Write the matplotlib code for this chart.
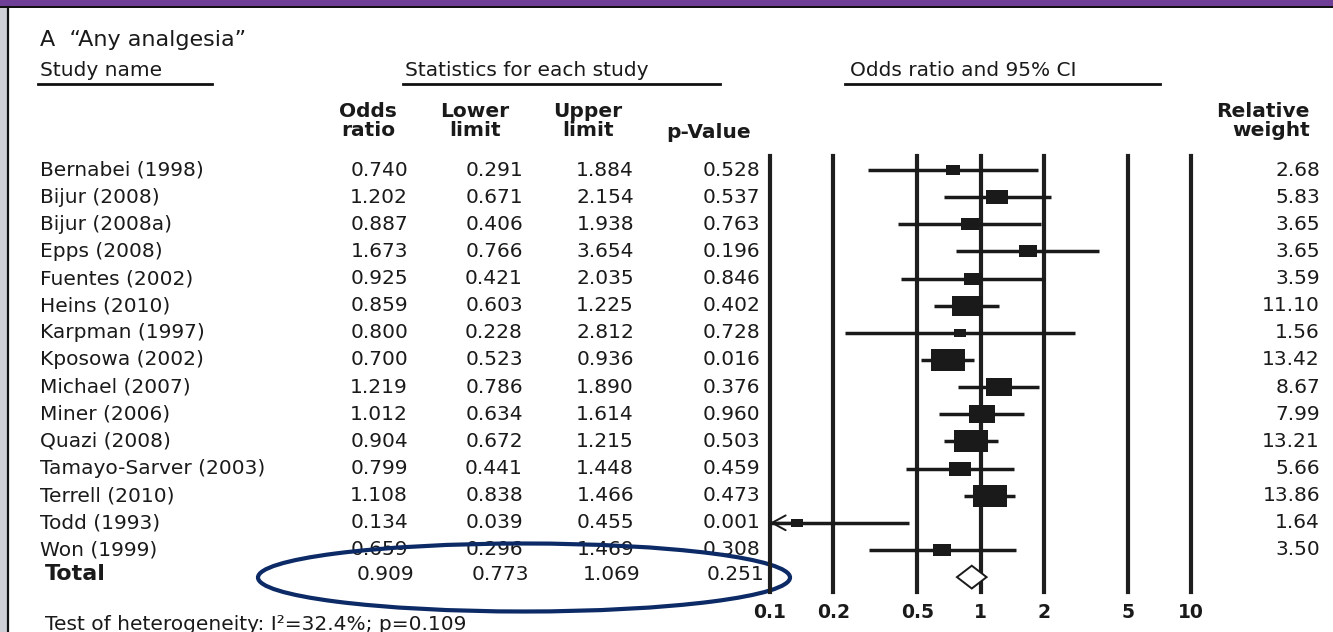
import numpy as np
import matplotlib
matplotlib.use("Agg")
import matplotlib.pyplot as plt
from matplotlib.path import Path
from matplotlib.patches import Ellipse, Rectangle, Polygon

# ---------------- data ----------------
studies = ["Bernabei (1998)", "Bijur (2008)", "Bijur (2008a)", "Epps (2008)",
           "Fuentes (2002)", "Heins (2010)", "Karpman (1997)", "Kposowa (2002)",
           "Michael (2007)", "Miner (2006)", "Quazi (2008)", "Tamayo-Sarver (2003)",
           "Terrell (2010)", "Todd (1993)", "Won (1999)"]
odds_ratio = [0.740, 1.202, 0.887, 1.673, 0.925, 0.859, 0.800, 0.700,
              1.219, 1.012, 0.904, 0.799, 1.108, 0.134, 0.659]
lower_limit = [0.291, 0.671, 0.406, 0.766, 0.421, 0.603, 0.228, 0.523,
               0.786, 0.634, 0.672, 0.441, 0.838, 0.039, 0.296]
upper_limit = [1.884, 2.154, 1.938, 3.654, 2.035, 1.225, 2.812, 0.936,
               1.890, 1.614, 1.215, 1.448, 1.466, 0.455, 1.469]
p_values = ["0.528", "0.537", "0.763", "0.196", "0.846", "0.402", "0.728", "0.016",
            "0.376", "0.960", "0.503", "0.459", "0.473", "0.001", "0.308"]
rel_weight = [2.68, 5.83, 3.65, 3.65, 3.59, 11.10, 1.56, 13.42,
              8.67, 7.99, 13.21, 5.66, 13.86, 1.64, 3.50]
total_or, total_lo, total_hi, total_p = 0.909, 0.773, 1.069, "0.251"
axis_ticks = [0.1, 0.2, 0.5, 1, 2, 5, 10]
axis_tick_labels = ["0.1", "0.2", "0.5", "1", "2", "5", "10"]

# ---------------- figure ----------------
W, H = 1333, 632
fig = plt.figure(figsize=(W / 100, H / 100), dpi=100)
fig.patch.set_facecolor("white")
plt.rcParams["font.family"] = ["DejaVu Sans"]
TXT = "#1a1a1a"
FS = 14.5

bg = fig.add_axes([0, 0, 1, 1])
bg.set_xlim(0, W)
bg.set_ylim(H, 0)
bg.axis("off")

# slide frame
bg.add_patch(Rectangle((0, 0), W, 6, color="#6f3f97", lw=0, zorder=1))
bg.add_patch(Rectangle((0, 6), W, 2, color="#111111", lw=0, zorder=2))
bg.add_patch(Rectangle((0, 8), 7, H - 8, color="#cfcfd8", lw=0, zorder=1))
bg.plot([7.5, 7.5], [7, H], color="#111111", lw=1.6, zorder=2)

# titles / headers
bg.text(40, 40, "A  \u201cAny analgesia\u201d", fontsize=16, color=TXT, va="center", ha="left")
for txt, x0, x1, xt in [("Study name", 38, 212, 40),
                        ("Statistics for each study", 403, 720, 405),
                        ("Odds ratio and 95% CI", 845, 1160, 850)]:
    bg.text(xt, 71, txt, fontsize=FS, color=TXT, va="center", ha="left")
    bg.plot([x0, x1], [84, 84], color="#111111", lw=2)

hdr = dict(fontsize=FS, color=TXT, fontweight="bold", va="center", ha="center",
           multialignment="center", linespacing=1.0)
bg.text(368, 121, "Odds\nratio", **hdr)
bg.text(475, 121, "Lower\nlimit", **hdr)
bg.text(588, 121, "Upper\nlimit", **hdr)
bg.text(709, 132, "p-Value", **hdr)
bg.text(1310, 121, "Relative\nweight", **dict(hdr, ha="right", multialignment="right"))

# rows
row_y0, row_dy = 170, 27.14
for i, name in enumerate(studies):
    y = row_y0 + i * row_dy
    kw = dict(fontsize=FS, color=TXT, va="center")
    bg.text(40, y, name, ha="left", **kw)
    bg.text(408, y, f"{odds_ratio[i]:.3f}", ha="right", **kw)
    bg.text(523, y, f"{lower_limit[i]:.3f}", ha="right", **kw)
    bg.text(634, y, f"{upper_limit[i]:.3f}", ha="right", **kw)
    bg.text(760, y, p_values[i], ha="right", **kw)
    bg.text(1320, y, f"{rel_weight[i]:.2f}", ha="right", **kw)

yt = 574
bg.text(45, yt, "Total", fontsize=16, fontweight="bold", color=TXT, va="center", ha="left")
for x, v in [(414, f"{total_or:.3f}"), (529, f"{total_lo:.3f}"),
             (640, f"{total_hi:.3f}"), (764, total_p)]:
    bg.text(x, yt, v, fontsize=FS, color=TXT, va="center", ha="right")

bg.text(45, 624, "Test of heterogeneity: I\u00b2=32.4%; p=0.109", fontsize=FS,
        color=TXT, va="center", ha="left")

# ellipse highlight
bg.add_patch(Ellipse((524, 577.5), 532, 68, fill=False, edgecolor="#0b2a66",
                     lw=3.0, zorder=10))

# ---------------- forest plot ----------------
x_left, x_right, y_top, y_bot = 770, 1191, 156, 592
ax = fig.add_axes([x_left / W, 1 - y_bot / H, (x_right - x_left) / W, (y_bot - y_top) / H])
ax.set_xscale("log")
ax.set_xlim(0.1, 10)
n = len(studies)
ax.set_ylim((y_bot - row_y0) / row_dy, (y_top - row_y0) / row_dy)
ax.axis("off")
ax.patch.set_alpha(0)

for t in axis_ticks:
    ax.axvline(t, color="#1e1e1e", lw=3.0, zorder=1, clip_on=False)
for t, lab in zip(axis_ticks, axis_tick_labels):
    ax.text(t, -(612 - y_bot) / (y_bot - y_top), lab, transform=ax.get_xaxis_transform(),
            fontsize=13.5, fontweight="bold", color=TXT, ha="center", va="center")

rect = Path([(-1.5, -1), (1.5, -1), (1.5, 1), (-1.5, 1), (-1.5, -1)],
            [Path.MOVETO, Path.LINETO, Path.LINETO, Path.LINETO, Path.CLOSEPOLY])
for i in range(n):
    lo = max(lower_limit[i], 0.1)
    ax.plot([lo, upper_limit[i]], [i, i], color="#1a1a1a", lw=2.5,
            solid_capstyle="butt", zorder=3, clip_on=False)
    ax.plot([odds_ratio[i]], [i], marker=rect, markersize=6.57 * np.sqrt(rel_weight[i]),
            color="#1a1a1a", markeredgewidth=0, linestyle="none", zorder=4)
    if lower_limit[i] < 0.1:
        ax.annotate("", xy=(0.1, i), xytext=(0.14, i),
                    arrowprops=dict(arrowstyle="->,head_length=0.7,head_width=0.38",
                                    lw=1.4, color="#1a1a1a", shrinkA=0, shrinkB=0,
                                    mutation_scale=14), zorder=5)

# summary diamond
h = 0.42
ax.add_patch(Polygon([(total_lo, n), (total_or, n - h), (total_hi, n), (total_or, n + h)],
                     closed=True, facecolor="white", edgecolor="#1a1a1a", lw=1.4, zorder=5))

fig.savefig("out.png", dpi=100)
